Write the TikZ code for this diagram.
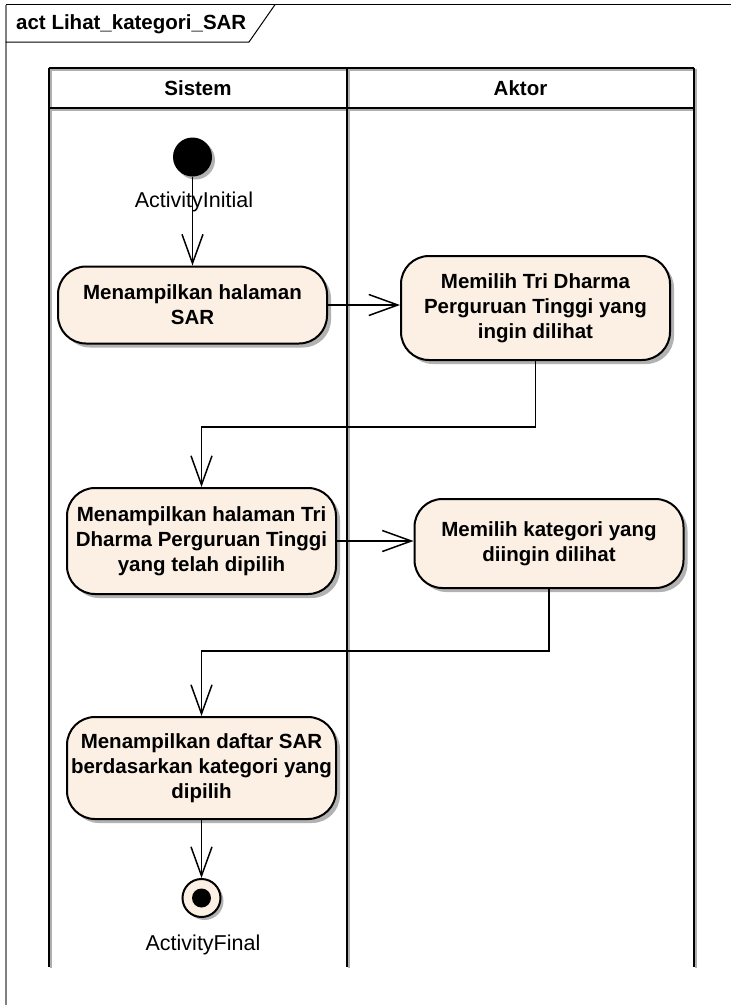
\documentclass[tikz,border=0pt]{standalone}
\usepackage{fontspec}
\setmainfont{Liberation Sans}
\usetikzlibrary{arrows.meta,positioning,shadows}
\definecolor{ActionCream}{RGB}{251,240,227}
\definecolor{LaneShade}{RGB}{175,175,175}

\tikzset{
  action/.style={draw=black,line width=2pt,fill=ActionCream,rounded corners=28pt,
    minimum width=269pt,inner sep=0pt,align=center,
    font=\fontsize{20.5}{25}\selectfont\bfseries,
    drop shadow={shadow xshift=4pt,shadow yshift=-4pt,fill=black!30,opacity=1}},
  startnode/.style={circle,fill=black,minimum size=39pt,inner sep=0pt,
    drop shadow={shadow xshift=3pt,shadow yshift=-3pt,fill=black!30,opacity=1}},
  endnode/.style={circle,draw=black,line width=2pt,fill=ActionCream,minimum size=38pt,inner sep=0pt,
    drop shadow={shadow xshift=3pt,shadow yshift=-3pt,fill=black!30,opacity=1},
    path picture={\fill[black] (path picture bounding box.center) circle (9.5pt);}},
  note/.style={font=\fontsize{21.5}{26}\selectfont,inner sep=0pt},
  head/.style={font=\fontsize{20.5}{25}\selectfont\bfseries,inner sep=0pt},
  lane/.style={line width=2.2pt},
  flow/.style={line width=1.5pt,-{Straight Barb[length=29pt,width=21pt]}}
}

\begin{document}
\begin{tikzpicture}[x=1pt,y=-1pt]
  \useasboundingbox (0,0) rectangle (731,1005);
  % frame and title tab
  \draw[gray,line width=1.8pt] (5.7,1005) -- (5.7,4.7);
  \draw[line width=1.3pt] (5.7,4.7) -- (731,4.7);
  \draw[line width=1pt] (5.7,42) -- (249,42) -- (275,4.7);
  \node[head,anchor=west] (title) at (16,24) {act Lihat\_kategori\_SAR};

  % partitions
  \foreach \x in {49,347,694}
    \draw[lane,LaneShade] (\x+1.6,69) -- (\x+1.6,968);
  \draw[lane,LaneShade] (49,69.6) -- (695,69.6);
  \draw[lane,LaneShade] (49,109.6) -- (695,109.6);
  \foreach \x in {49,347,694}
    \draw[lane] (\x,68) -- (\x,967);
  \draw[lane] (49,68) -- (694,68);
  \draw[lane] (49,108) -- (694,108);
  \node[head] (sysHead) at (198,88) {Sistem};
  \node[head] (actHead) at (520.5,88) {Aktor};

  % activity nodes
  \node[note] (initLabel) at (194,202) {ActivityInitial};
  \node[startnode] (init) at (192.5,157) {};
  \node[action,minimum height=77pt] (showSAR) at (192.5,305) {Menampilkan halaman\\SAR};
  \node[action,minimum height=104pt] (pickTri) at (535.5,308) {Memilih Tri Dharma\\Perguruan Tinggi yang\\ingin dilihat};
  \node[action,minimum height=106pt] (showTri) at (201.5,541) {Menampilkan halaman Tri\\Dharma Perguruan Tinggi\\yang telah dipilih};
  \node[action,minimum height=89pt] (pickKat) at (549,543.5) {Memilih kategori yang\\diingin dilihat};
  \node[action,minimum height=102pt] (showList) at (201.5,768) {Menampilkan daftar SAR\\berdasarkan kategori yang\\dipilih};
  \node[endnode] (final) at (201.5,898) {};
  \node[note] (finalLabel) at (203,945) {ActivityFinal};

  % control flows
  \draw[flow] (init) -- (showSAR);
  \draw[flow] (showSAR.east) -- (showSAR.east -| pickTri.west);
  \draw[flow] (pickTri.south) -- ++(0,66) -| (showTri.north);
  \draw[flow] (showTri.east) -- (showTri.east -| pickKat.west);
  \draw[flow] (pickKat.south) -- ++(0,62) -| (showList.north);
  \draw[flow] (showList) -- (final);
\end{tikzpicture}
\end{document}
